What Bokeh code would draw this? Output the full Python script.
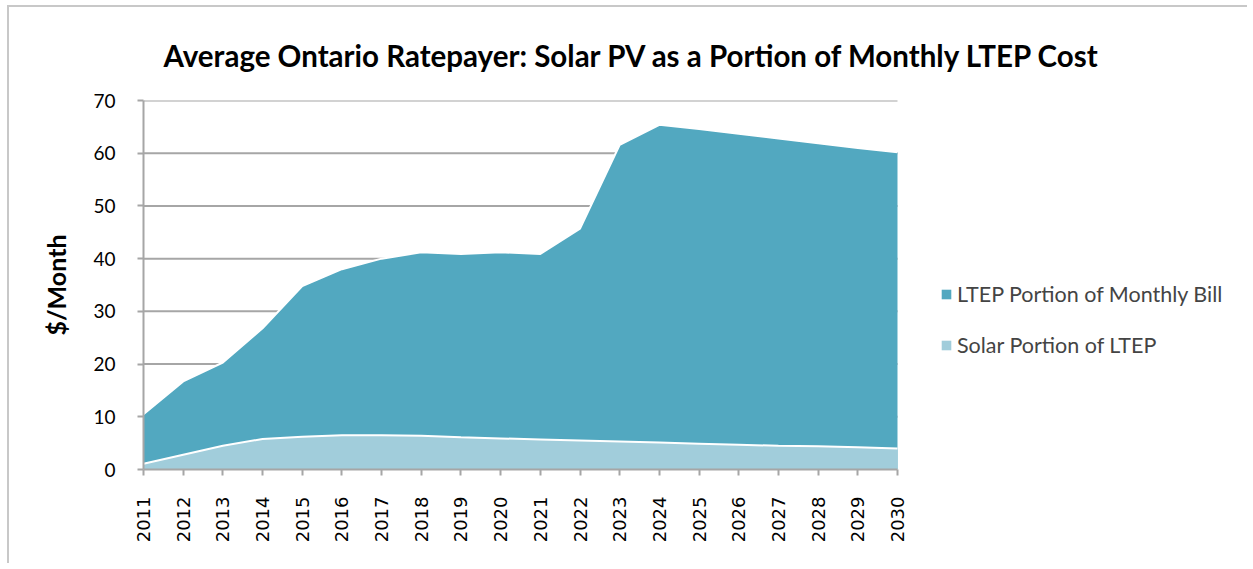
from bokeh.plotting import figure
from bokeh.models import ColumnDataSource, Legend, LegendItem, FixedTicker, Range1d
from bokeh.embed import file_html
from bokeh.resources import INLINE
import math

years = list(range(2011, 2031))
ltep = [10.5, 16.7, 20.3, 26.8, 34.8, 38.0, 40.0, 41.2, 40.9, 41.2,
        40.9, 45.7, 61.6, 65.4, 64.6, 63.7, 62.8, 61.9, 61.0, 60.2]
solar = [1.1, 2.8, 4.5, 5.8, 6.2, 6.5, 6.5, 6.4, 6.1, 5.9,
         5.7, 5.5, 5.3, 5.1, 4.9, 4.7, 4.5, 4.4, 4.2, 4.0]
y_ticks = [0, 10, 20, 30, 40, 50, 60, 70]
series_names = ["LTEP Portion of Monthly Bill", "Solar Portion of LTEP"]
title_text = "Average Ontario Ratepayer: Solar PV as a Portion of Monthly LTEP Cost"
y_label = "$/Month"

src = ColumnDataSource(dict(x=years, ltep=ltep, solar=solar, zero=[0] * len(years)))

FONT = "Lato"
GRID = "#a6a6a6"
C_LTEP = "#52a8c0"
C_SOLAR = "#a1cddb"

# layout (pixels)
W, H = 1240, 558
ML, MT, MB, MR = 134, 90, 96, 0
PLOT_W = 754          # pixels between first and last year
frame_w = W - ML - MR
x_end = years[0] + frame_w * (years[-1] - years[0]) / PLOT_W

p = figure(width=W, height=H, output_backend="svg", toolbar_location=None,
           x_range=Range1d(years[0], x_end), y_range=Range1d(0, 70),
           min_border_left=ML, min_border_right=MR, min_border_top=MT, min_border_bottom=MB,
           title=title_text)
p.styles = {"border-left": "2px solid #c8c8c8", "border-top": "2px solid #c8c8c8",
            "margin-left": "7px", "margin-top": "5px"}
p.outline_line_color = None
p.background_fill_color = "white"
p.border_fill_color = "white"

p.title.text_font = FONT
p.title.text_font_size = "29.5px"
p.title.text_font_style = "bold"
p.title.text_color = "#000000"
p.title.align = "left"
p.title.offset = 20
p.title.standoff = 56

# horizontal gridlines limited to the plotted years
gy = y_ticks[1:]
p.segment(x0=[years[0]] * len(gy), x1=[years[-1]] * len(gy), y0=gy, y1=gy,
          line_color=GRID, line_width=2)

r1 = p.varea(x="x", y1="zero", y2="ltep", source=src, fill_color=C_LTEP)
p.line(x="x", y="ltep", source=src, line_color="white", line_width=2)
r2 = p.varea(x="x", y1="zero", y2="solar", source=src, fill_color=C_SOLAR)
p.line(x="x", y="solar", source=src, line_color="white", line_width=2)

# axes
p.xaxis.ticker = FixedTicker(ticks=years)
p.xaxis.bounds = (years[0], years[-1])
p.yaxis.ticker = FixedTicker(ticks=y_ticks)
for ax in (p.xaxis[0], p.yaxis[0]):
    ax.axis_line_color = GRID
    ax.axis_line_width = 2
    ax.major_tick_line_color = GRID
    ax.major_tick_line_width = 2
    ax.major_tick_in = 0
    ax.major_tick_out = 6
    ax.minor_tick_line_color = None
    ax.major_label_text_color = "#000000"

p.xaxis.major_label_orientation = math.pi / 2
p.xaxis.major_label_text_font = "DejaVu Sans"
p.xaxis.major_label_text_font_size = "18px"
p.xaxis.major_label_standoff = 21

p.yaxis.major_label_text_font = FONT
p.yaxis.major_label_text_font_size = "19px"
p.yaxis.major_label_standoff = 22
p.yaxis.axis_label = y_label
p.yaxis.axis_label_text_font = FONT
p.yaxis.axis_label_text_font_size = "25px"
p.yaxis.axis_label_text_font_style = "bold"
p.yaxis.axis_label_text_color = "#000000"
p.yaxis.axis_label_standoff = 19

p.xgrid.grid_line_color = None
p.ygrid.grid_line_color = None

legend = Legend(items=[LegendItem(label=series_names[0], renderers=[r1]),
                       LegendItem(label=series_names[1], renderers=[r2])],
                location=(797, 111), padding=0, margin=0, spacing=25,
                glyph_width=12, glyph_height=12, label_height=22, label_standoff=5,
                label_text_font=FONT, label_text_font_size="21.5px",
                border_line_color=None, background_fill_alpha=0)
p.add_layout(legend, "center")

open("out.html", "w").write(file_html(p, INLINE))
